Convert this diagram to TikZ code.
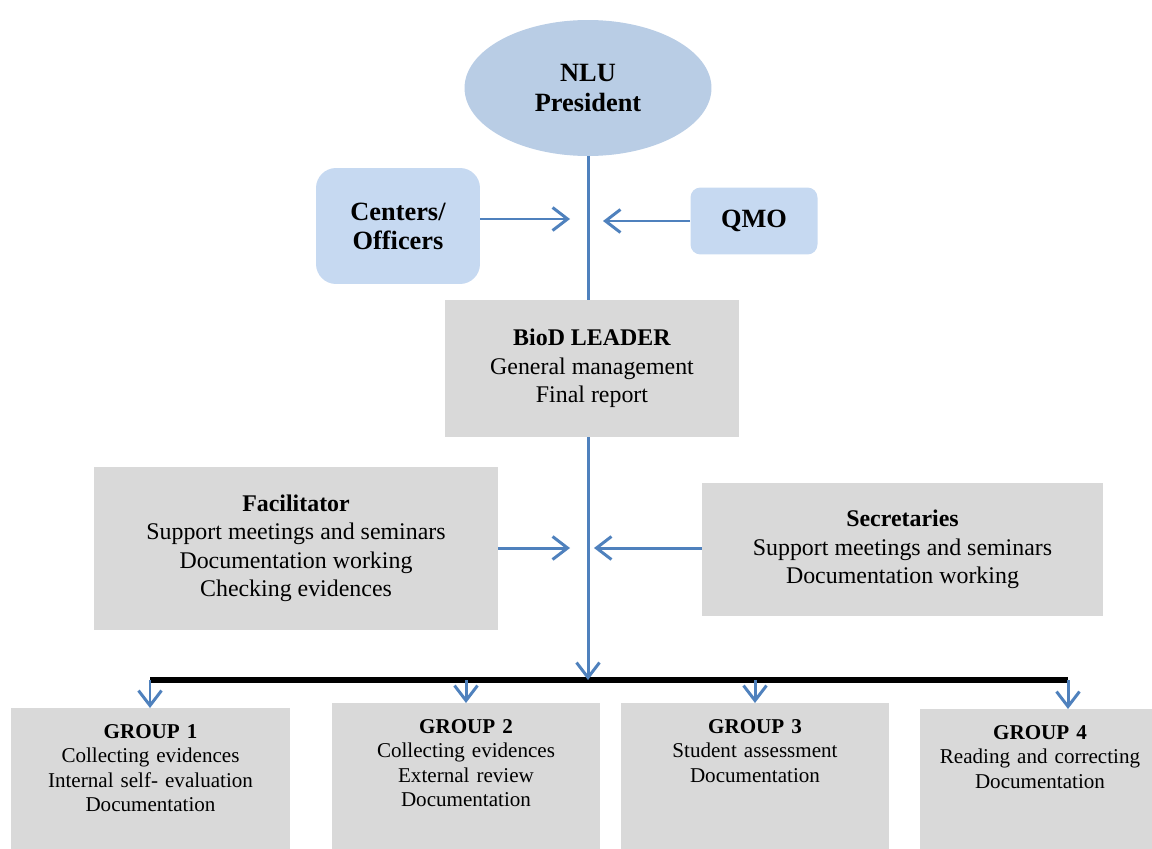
\documentclass[tikz,border=0pt]{standalone}
\usepackage{fontspec}
\setmainfont{Liberation Serif}
\usetikzlibrary{shapes}
\usetikzlibrary{positioning}
\usetikzlibrary{arrows.meta}

\definecolor{spineblue}{HTML}{4F81BD}
\definecolor{ovalblue}{HTML}{B9CDE5}
\definecolor{softblue}{HTML}{C6D9F1}
\definecolor{boxgray}{HTML}{D9D9D9}

\begin{document}
\begin{tikzpicture}[
    x=0.02cm, y=-0.02cm,
    >={Straight Barb[length=0.3cm,width=0.46cm]},
    every node/.style={font=\fontsize{13.6}{16.2}\selectfont},
    head/.style={ellipse, fill=ovalblue, minimum width=4.94cm, minimum height=2.72cm, align=center, font=\fontsize{15}{17.5}\selectfont\bfseries},
    unit/.style={fill=softblue, align=center, font=\fontsize{15}{16.5}\selectfont\bfseries},
    role/.style={fill=boxgray, align=center},
    group/.style={fill=boxgray, anchor=north, align=center, text depth=2.4cm, inner ysep=0.32cm, font=\fontsize{12}{13.9}\selectfont},
    link/.style={->, draw=spineblue, line width=1.7pt},
    spine/.style={draw=spineblue, line width=1.7pt}
]
\useasboundingbox (0,0) rectangle (1152,848);

% top of the chart
\node[head] (pres) at (588,88) {NLU\\President};
\node[unit, rounded corners=0.4cm, minimum width=3.28cm, minimum height=2.32cm] (ctr) at (398,226) {Centers/\\Officers};
\node[unit, rounded corners=0.2cm, minimum width=2.54cm, minimum height=1.34cm] (qmo) at (754,221) {QMO};
\node[role, minimum width=5.88cm, minimum height=2.74cm] (lead) at (592,368.5) {\textbf{BioD LEADER}\\General management\\Final report};

% support roles
\node[role, minimum width=8.08cm, minimum height=3.26cm] (fac) at (296,548.5) {\textbf{Facilitator}\\Support meetings and seminars\\Documentation working\\Checking evidences};
\node[role, minimum width=8.02cm, minimum height=2.66cm] (sec) at (902.5,549.5) {\textbf{Secretaries}\\Support meetings and seminars\\Documentation working};

% working groups
\node[group, text width=5.2cm, minimum width=5.58cm] (g1) at (150.5,708) {\textbf{GROUP 1}\\Collecting evidences\\Internal self- evaluation\\Documentation};
\node[group, text width=5cm, minimum width=5.36cm] (g2) at (466,703) {\textbf{GROUP 2}\\Collecting evidences\\External review\\Documentation};
\node[group, text width=5cm, minimum width=5.36cm] (g3) at (755,703) {\textbf{GROUP 3}\\Student assessment\\Documentation};
\node[group, text width=4.5cm, minimum width=4.8cm] (g4) at (1040,709) {\textbf{GROUP 4}\\Reading and correcting\\Documentation};

\coordinate (ctrin) at (570,219);
\coordinate (qmoin) at (603,221);
\coordinate (facin) at (570,548);
\coordinate (secin) at (594,548);
\coordinate (barL) at (150,680);
\coordinate (barR) at (1068,680);

\draw[spine] (pres.south) -- (pres.south |- lead.north);
\draw[link] (ctr.east |- ctrin) -- (ctrin);
\draw[link] (qmo.west) -- (qmoin);
\draw[line width=3.4pt] (barL) -- (barR);
\draw[link] (lead.south -| pres.south) -- (pres.south |- barL);
\draw[link] (fac.east |- facin) -- (facin);
\draw[link] (sec.west |- secin) -- (secin);

\draw[link] (barL) -- (barL |- g1.north);
\draw[link] (g2.north |- barL) -- (g2.north);
\draw[link] (g3.north |- barL) -- (g3.north);
\draw[link] (barR) -- (barR |- g4.north);
\end{tikzpicture}
\end{document}
